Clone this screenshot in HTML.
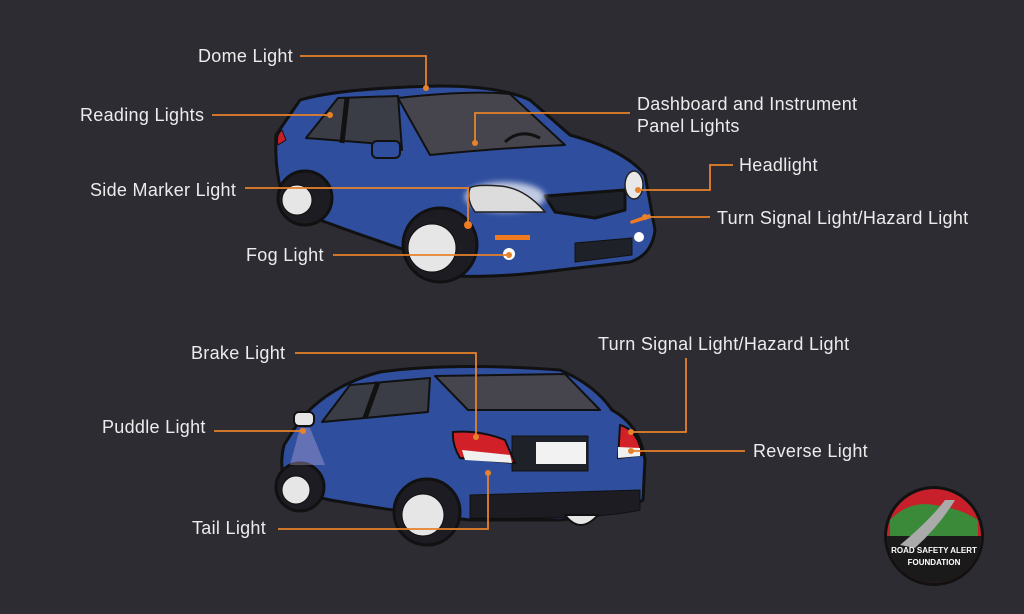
<!DOCTYPE html>
<html><head><meta charset="utf-8"><style>
html,body{margin:0;padding:0;background:#2d2c33;}
svg{display:block}
text{font-family:"Liberation Sans",sans-serif;font-size:18px;letter-spacing:0.3px;fill:#ececec;}
</style></head><body>
<svg width="1024" height="614" viewBox="0 0 1024 614" xmlns="http://www.w3.org/2000/svg">
<defs>
<filter id="g" x="-50%" y="-50%" width="200%" height="200%"><feGaussianBlur stdDeviation="3"/></filter>
</defs>
<rect width="1024" height="614" fill="#2d2c33"/>

<!-- FRONT CAR -->
<g stroke="#111" stroke-width="3" stroke-linejoin="round">
<path d="M276,135 L300,100 Q340,88 440,86 Q500,86 530,100 L570,135 Q625,150 645,175 L655,230 Q652,255 630,262 L560,270 Q500,278 455,276 L420,255 Q360,235 320,220 L288,210 Q274,180 276,135 Z" fill="#2f4e9e"/>
<path d="M306,138 L338,98 L398,96 L402,150 L370,143 Z" fill="#3b3d46" stroke-width="2"/>
<line x1="347" y1="98" x2="342" y2="143" stroke-width="5"/>
<path d="M398,98 Q470,90 510,94 L565,145 Q500,148 430,155 Z" fill="#46454d" stroke-width="2"/>
<path d="M505,142 Q520,128 540,138" fill="none" stroke-width="3"/>
<rect x="372" y="141" width="28" height="17" rx="5" fill="#2f4e9e" stroke-width="2"/>
<circle cx="305" cy="198" r="27" fill="#1c1c22"/>
<circle cx="297" cy="200" r="15" fill="#e6e6e6" stroke-width="1"/>
<circle cx="440" cy="245" r="37" fill="#1c1c22"/>
<circle cx="432" cy="248" r="24" fill="#e6e6e6" stroke-width="1"/>
<path d="M545,196 L625,190 L625,210 L595,218 L555,212 Z" fill="#1f2128"/>
<path d="M575,243 L632,238 L632,255 L575,262 Z" fill="#1f2128" stroke-width="1"/>
<path d="M282,130 Q276,135 278,145 L286,140 Z" fill="#c81e28" stroke-width="1"/>
</g>
<ellipse cx="505" cy="197" rx="40" ry="15" fill="#fff" filter="url(#g)" opacity=".7"/>
<path d="M470,188 Q475,184 500,186 Q525,188 545,212 L475,212 Q466,200 470,188 Z" fill="#dcdcdc" stroke="#222" stroke-width="1.5"/>
<ellipse cx="634" cy="185" rx="9" ry="14" fill="#e8e8e8" stroke="#222" stroke-width="1.5"/>
<rect x="495" y="235" width="35" height="5" fill="#f07a20"/>
<circle cx="509" cy="254" r="6" fill="#fff"/>
<circle cx="639" cy="237" r="5" fill="#fff"/>
<path d="M630,221 L650,214 L651,218 L631,224 Z" fill="#f07a20"/>
<circle cx="468" cy="225" r="4" fill="#f07a20"/>

<!-- REAR CAR -->
<g stroke="#111" stroke-width="3" stroke-linejoin="round">
<path d="M284,445 L300,420 Q330,385 380,372 Q450,362 560,370 Q595,385 612,410 Q640,425 645,460 L643,500 Q620,515 560,520 L470,520 Q400,512 330,500 L288,490 Q278,470 284,445 Z" fill="#2f4e9e"/>
<path d="M322,422 L350,385 L430,378 L428,412 Z" fill="#3b3d46" stroke-width="2"/>
<line x1="378" y1="382" x2="365" y2="418" stroke-width="5"/>
<path d="M435,376 L565,374 L600,410 L468,410 Z" fill="#46454d" stroke-width="2"/>
<path d="M470,495 L640,490 L640,510 Q600,520 470,518 Z" fill="#1c1c22" stroke-width="1"/>
<circle cx="300" cy="487" r="24" fill="#1c1c22"/>
<circle cx="296" cy="490" r="14" fill="#e6e6e6" stroke-width="1"/>
<circle cx="427" cy="512" r="33" fill="#1c1c22"/>
<circle cx="423" cy="515" r="21" fill="#e6e6e6" stroke-width="1"/>
<path d="M565,515 Q580,535 598,515 Z" fill="#e6e6e6" stroke-width="2"/>
<rect x="512" y="436" width="76" height="35" fill="#1f2128" stroke-width="1"/>
<rect x="294" y="412" width="20" height="14" rx="5" fill="#e6e6e6" stroke-width="2"/>
</g>
<path d="M300,428 L290,465 L325,465 L310,428 Z" fill="#c9b8e0" opacity=".35"/>
<rect x="536" y="442" width="50" height="22" fill="#f2f2f2"/>
<path d="M453,432 Q480,430 505,440 L515,463 L460,458 Q452,445 453,432 Z" fill="#d22028" stroke="#111" stroke-width="2"/>
<path d="M462,450 L510,455 L512,463 L465,460 Z" fill="#f0f0f0"/>
<path d="M620,425 Q638,430 642,455 L618,458 Z" fill="#d22028" stroke="#111" stroke-width="2"/>
<path d="M618,447 L640,448 L640,456 L618,458 Z" fill="#f0f0f0"/>

<!-- LINES -->
<g stroke="#e6822b" stroke-width="1.8" fill="none">
<polyline points="300,56 426,56 426,88"/>
<polyline points="212,115 330,115"/>
<polyline points="630,113 475,113 475,143"/>
<polyline points="245,188 468,188 468,225"/>
<polyline points="733,165 710,165 710,190 638,190"/>
<polyline points="710,217 645,217"/>
<polyline points="333,255 509,255"/>
<polyline points="295,353 476,353 476,437"/>
<polyline points="214,431 303,431"/>
<polyline points="686,358 686,432 631,432"/>
<polyline points="745,451 631,451"/>
<polyline points="278,529 488,529 488,473"/>
</g>
<g fill="#e6822b">
<circle cx="426" cy="88" r="3"/><circle cx="330" cy="115" r="3"/><circle cx="475" cy="143" r="3"/>
<circle cx="638" cy="190" r="3"/><circle cx="645" cy="217" r="3"/><circle cx="509" cy="255" r="3"/>
<circle cx="476" cy="437" r="3"/><circle cx="303" cy="431" r="3"/><circle cx="631" cy="432" r="3"/>
<circle cx="631" cy="451" r="3"/><circle cx="488" cy="473" r="3"/>
</g>

<!-- LABELS -->
<text x="198" y="62">Dome Light</text>
<text x="80" y="121">Reading Lights</text>
<text x="637" y="110">Dashboard and Instrument</text>
<text x="637" y="132">Panel Lights</text>
<text x="739" y="171">Headlight</text>
<text x="90" y="196">Side Marker Light</text>
<text x="717" y="224">Turn Signal Light/Hazard Light</text>
<text x="246" y="261">Fog Light</text>
<text x="191" y="359">Brake Light</text>
<text x="598" y="350">Turn Signal Light/Hazard Light</text>
<text x="102" y="433">Puddle Light</text>
<text x="753" y="457">Reverse Light</text>
<text x="192" y="534">Tail Light</text>

<!-- LOGO -->
<circle cx="934" cy="536" r="50" fill="#111"/>
<circle cx="934" cy="536" r="47" fill="#c8202a"/>
<path d="M887,536 A47,47 0 0 0 981,536 Z" fill="#1a1a1a"/>
<path d="M890,520 Q910,500 934,505 Q960,508 978,520 L978,536 L890,536 Z" fill="#3a8a3a"/>
<path d="M900,545 Q930,520 945,500 L955,500 Q940,525 915,548 Z" fill="#aaa"/>
<text x="934" y="553" text-anchor="middle" style="font-size:8px;font-weight:bold;fill:#fff;letter-spacing:0">ROAD SAFETY ALERT</text>
<text x="934" y="565" text-anchor="middle" style="font-size:8px;font-weight:bold;fill:#fff;letter-spacing:0">FOUNDATION</text>
</svg>
</body></html>
